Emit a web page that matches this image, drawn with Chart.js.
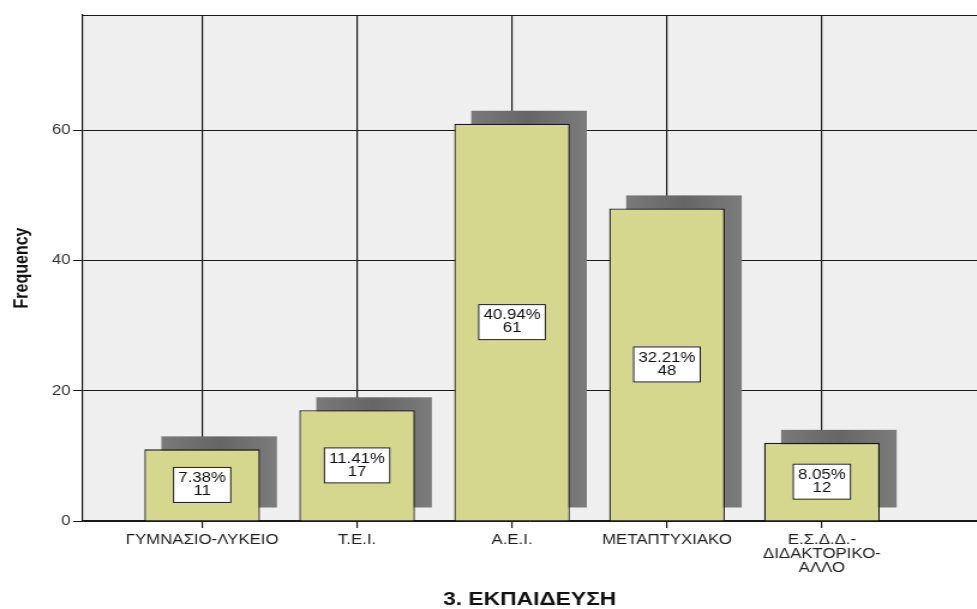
<!DOCTYPE html>
<html>
<head>
<meta charset="utf-8">
<script src="https://cdn.jsdelivr.net/npm/chart.js@4/dist/chart.umd.min.js"></script>
<style>
html,body{margin:0;padding:0;background:#fff;overflow:hidden;}
#wrap{width:977px;height:609px;overflow:hidden;}
canvas{display:block;transform:scaleX(1.2);transform-origin:0 0;}
</style>
</head>
<body>
<div id="wrap"><canvas id="c" width="814" height="609" style="width:814px;height:609px"></canvas></div>
<script>
const categories = ['ΓΥΜΝΑΣΙΟ-ΛΥΚΕΙΟ', 'Τ.Ε.Ι.', 'Α.Ε.Ι.', 'ΜΕΤΑΠΤΥΧΙΑΚΟ', ['Ε.Σ.Δ.Δ.-', 'ΔΙΔΑΚΤΟΡΙΚΟ-', 'ΑΛΛΟ']];
const counts = [11, 17, 61, 48, 12];
const percentLabels = ['7.38%', '11.41%', '40.94%', '32.21%', '8.05%'];
const yTickValues = [0, 20, 40, 60];
const yTitle = 'Frequency';
const xTitle = '3. ΕΚΠΑΙΔΕΥΣΗ';

const FONT = '"Liberation Sans", Arial, sans-serif';

const plotBg = {
  id: 'plotBg',
  beforeDraw(chart) {
    const {ctx, chartArea: a} = chart;
    ctx.save();
    ctx.fillStyle = '#efefef';
    ctx.fillRect(a.left, a.top, a.right - a.left, a.bottom - a.top);
    ctx.restore();
  },
  afterDraw(chart) {
    const {ctx, chartArea: a} = chart;
    ctx.save();
    ctx.strokeStyle = '#1a1a1a';
    ctx.lineWidth = 1.2;
    ctx.beginPath();
    ctx.moveTo(a.left, a.top + 0.5);
    ctx.lineTo(a.right, a.top + 0.5);
    ctx.stroke();
    ctx.restore();
  }
};

const shadowPlugin = {
  id: 'barShadow',
  beforeDatasetsDraw(chart) {
    const {ctx} = chart;
    const meta = chart.getDatasetMeta(0);
    ctx.save();
    meta.data.forEach(bar => {
      const w = bar.width;
      const dx = 17 / 1.2, dy = 13;
      const x0 = bar.x - w / 2 + dx;
      const g = ctx.createLinearGradient(x0, 0, x0 + w, 0);
      g.addColorStop(0, '#7a7a7a');
      g.addColorStop(0.5, '#666666');
      g.addColorStop(1, '#7c7c7c');
      ctx.fillStyle = g;
      ctx.fillRect(x0, bar.y - dy, w, bar.base - bar.y);
    });
    ctx.restore();
  }
};

const labelPlugin = {
  id: 'barLabels',
  afterDatasetsDraw(chart) {
    const {ctx} = chart;
    const meta = chart.getDatasetMeta(0);
    ctx.save();
    ctx.font = '14px ' + FONT;
    ctx.textAlign = 'center';
    ctx.textBaseline = 'middle';
    meta.data.forEach((bar, i) => {
      const l1 = percentLabels[i], l2 = String(counts[i]);
      const tw = Math.max(ctx.measureText(l1).width, ctx.measureText(l2).width);
      const bw = tw + 9, bh = 36;
      const cy = (bar.y + bar.base) / 2;
      const bx = bar.x - bw / 2, by = cy - bh / 2;
      ctx.fillStyle = '#ffffff';
      ctx.fillRect(bx, by, bw, bh);
      ctx.strokeStyle = '#1a1a1a';
      ctx.lineWidth = 1;
      ctx.strokeRect(bx + 0.5, by + 0.5, bw - 1, bh - 1);
      ctx.fillStyle = '#111';
      ctx.fillText(l1, bar.x, cy - 6.5);
      ctx.fillText(l2, bar.x, cy + 6.5);
    });
    ctx.restore();
  }
};

new Chart(document.getElementById('c'), {
  type: 'bar',
  data: {
    datasets: [{
      data: counts.map((v, i) => ({x: i, y: v})),
      backgroundColor: '#d6d78f',
      borderColor: '#1a1a1a',
      borderWidth: 1.3,
      categoryPercentage: 1,
      barPercentage: 0.746
    }]
  },
  options: {
    responsive: false,
    animation: false,
    devicePixelRatio: 1,
    layout: {padding: {top: 15, left: 6, right: 0, bottom: 0}},
    plugins: {legend: {display: false}, tooltip: {enabled: false}},
    scales: {
      x: {
        type: 'linear',
        offset: false,
        min: -0.772,
        max: 5.0,
        afterBuildTicks: s => { s.ticks = categories.map((c, i) => ({value: i})); },
        ticks: {
          autoSkip: false,
          maxRotation: 0,
          padding: 5,
          color: '#222',
          font: {family: FONT, size: 14, lineHeight: 1.0},
          callback: (v) => categories[v]
        },
        grid: {offset: false, color: '#1a1a1a', lineWidth: 1.2, tickLength: 7, tickColor: '#1a1a1a', drawOnChartArea: true},
        border: {color: '#1a1a1a', width: 1.2},
        title: {
          display: true, text: xTitle, color: '#111',
          font: {family: FONT, size: 19, weight: 'bold', lineHeight: 1.0},
          padding: {top: 10, bottom: 0}
        }
      },
      y: {
        min: 0,
        max: 77.7,
        afterBuildTicks: s => { s.ticks = yTickValues.map(v => ({value: v})); },
        ticks: {padding: 2, color: '#333', font: {family: FONT, size: 14}},
        grid: {color: '#1a1a1a', lineWidth: 1, tickLength: 8, tickColor: '#1a1a1a'},
        border: {color: '#1a1a1a', width: 1.2},
        title: {
          display: true, text: yTitle, color: '#111',
          font: {family: FONT, size: 16, weight: 'bold'},
          padding: {top: 3, bottom: 13}
        }
      }
    }
  },
  plugins: [plotBg, shadowPlugin, labelPlugin]
});
</script>
</body>
</html>
